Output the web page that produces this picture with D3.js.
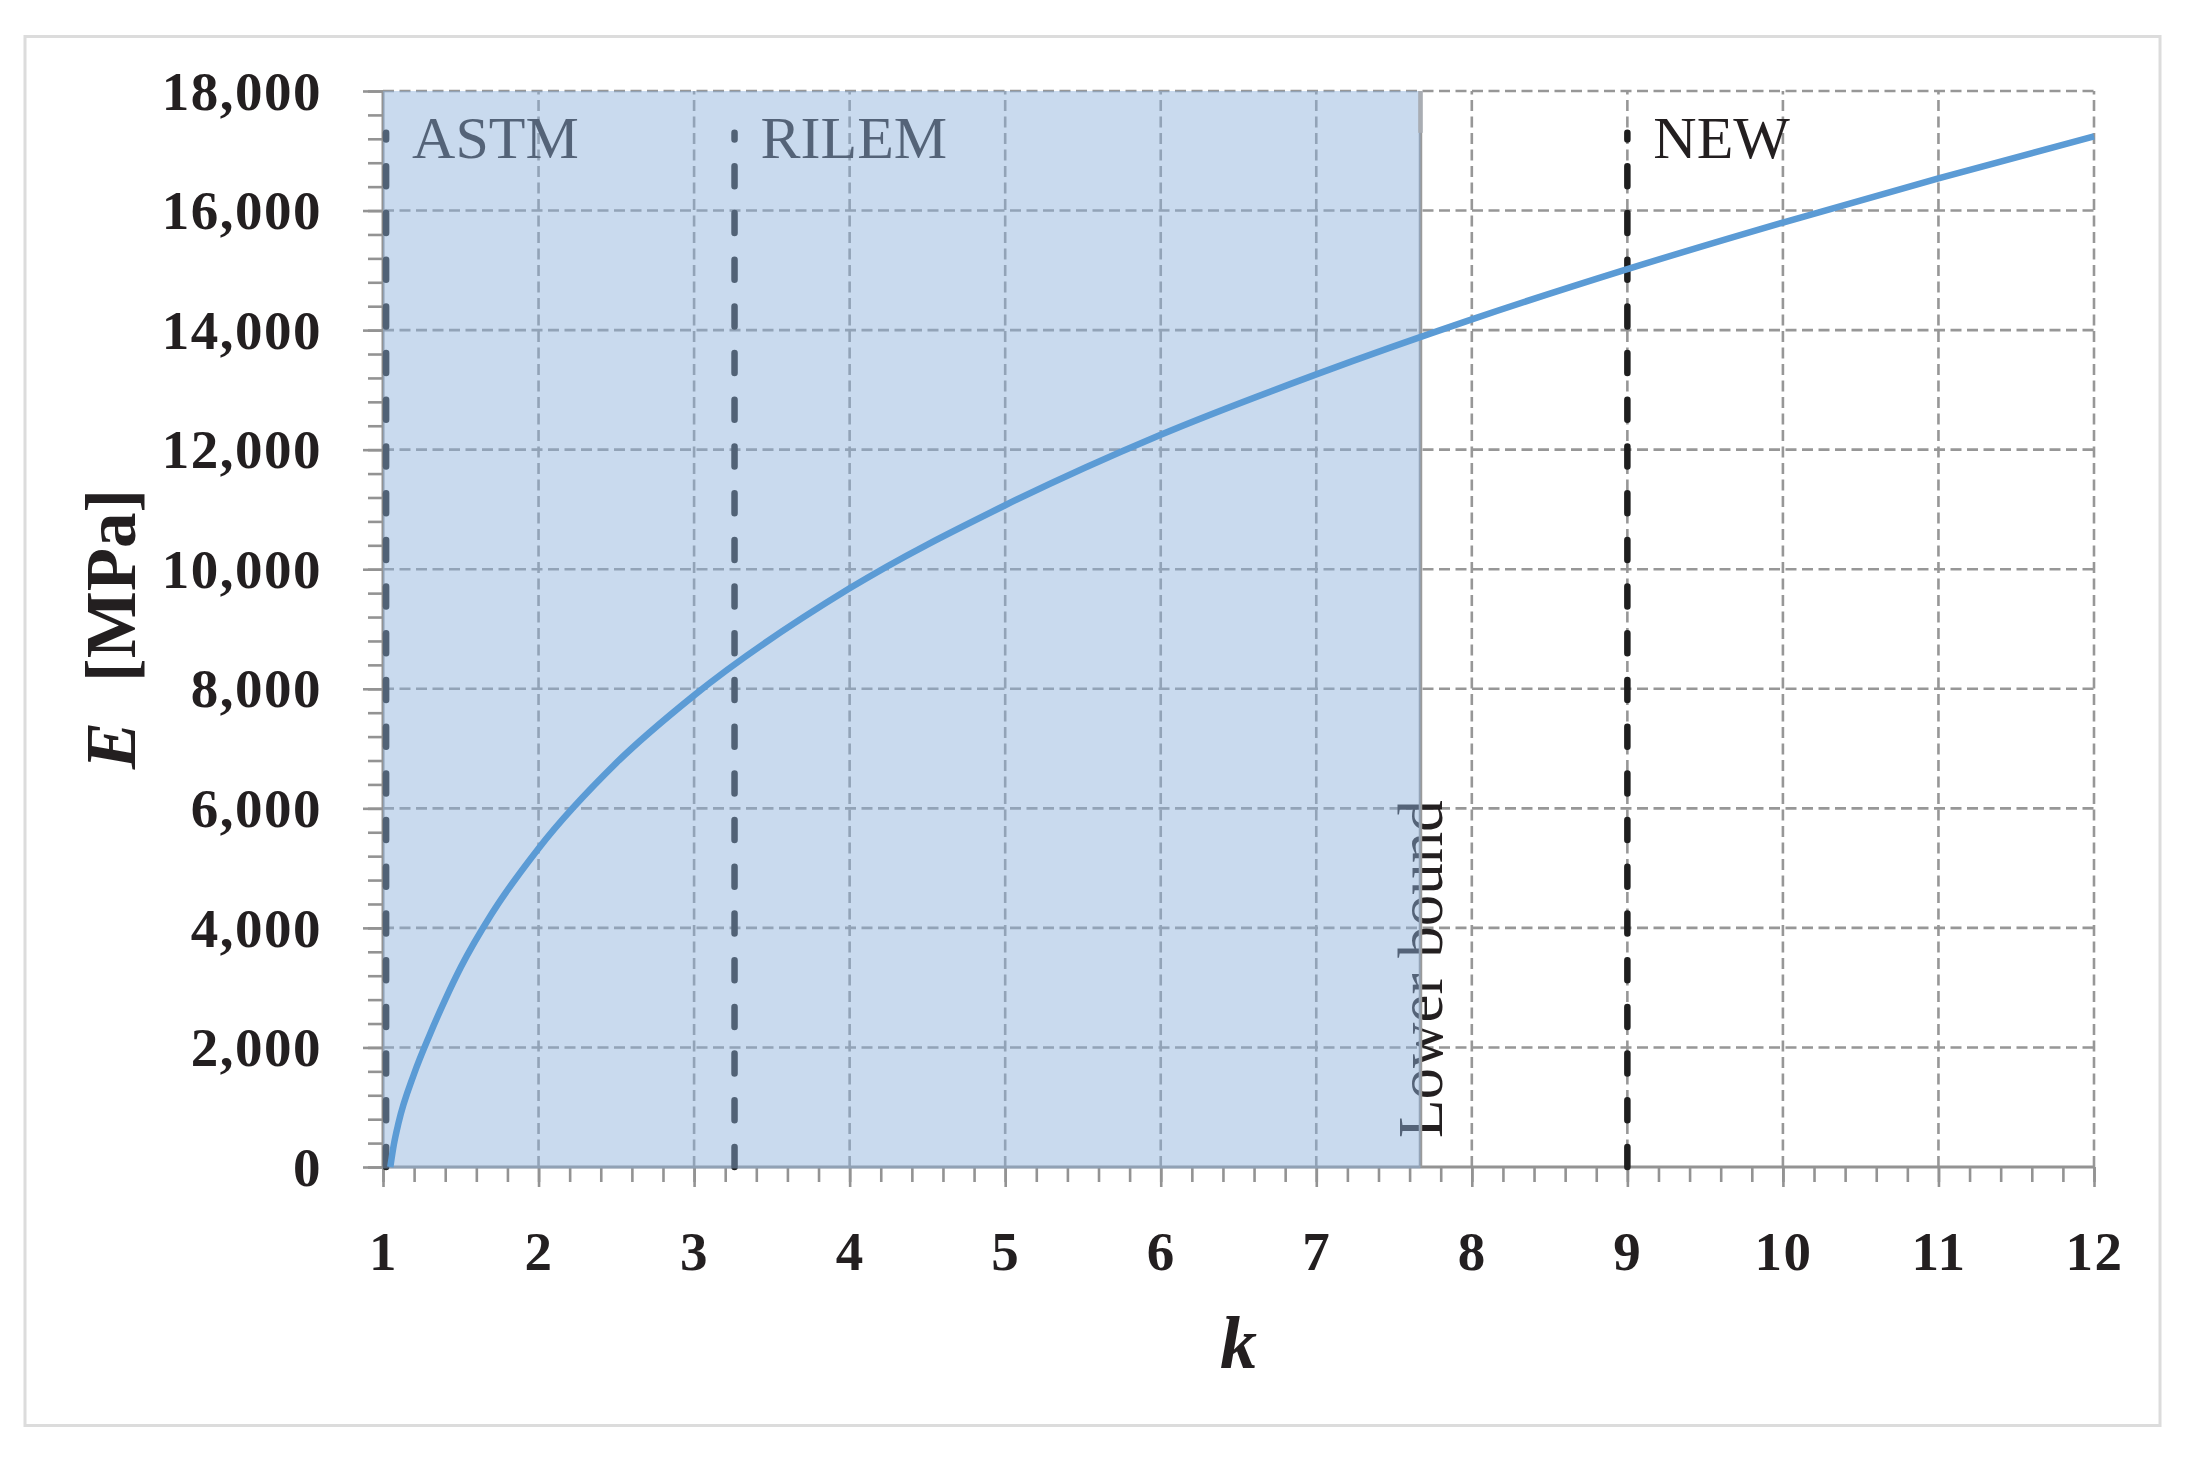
<!DOCTYPE html>
<html>
<head>
<meta charset="utf-8">
<script src="https://cdn.jsdelivr.net/npm/d3@7"></script>
<style>
  html, body { margin: 0; padding: 0; background: #ffffff; }
  svg { display: block; }
  text { font-family: "Liberation Serif", "DejaVu Serif", serif; }
</style>
</head>
<body>
<div id="chart"></div>
<script>
// ---------------- data ----------------
const kValues = [1.047, 1.07, 1.1, 1.2, 1.3, 1.4, 1.5, 1.7, 2, 2.5, 3, 4, 5, 6, 7, 8, 9, 10, 11, 12];
const eValues = [0, 380, 740, 1560, 2210, 2800, 3340, 4240, 5330, 6760, 7890, 9680, 11070, 12250, 13260, 14180, 15020, 15800, 16540, 17240];

const xTicks = [1, 2, 3, 4, 5, 6, 7, 8, 9, 10, 11, 12];
const yTicks = [0, 2000, 4000, 6000, 8000, 10000, 12000, 14000, 16000, 18000];

const markerNames = ["ASTM", "RILEM", "NEW"];
const markerK = [1.02, 3.26, 9];
const markerTop = 17300;          // E value where the marker lines end
const lowerBoundK = 7.67;
const lowerBoundLabel = "Lower bound";

const xTitle = "k";
const yTitleE = "E";
const yTitleUnit = "[MPa]";

// ---------------- layout ----------------
const W = 2188, H = 1460;
const svg = d3.select("#chart").append("svg").attr("width", W).attr("height", H);

const x = d3.scaleLinear().domain([1, 12]).range([383, 2094]);
const y = d3.scaleLinear().domain([0, 18000]).range([1167, 91]);

const gridColor = "#979797";
const axisColor = "#939393";
const textColor = "#231f20";

// outer frame
svg.append("rect")
  .attr("x", 25).attr("y", 36.5).attr("width", 2135).attr("height", 1389)
  .attr("fill", "#fff").attr("stroke", "#dcdcdc").attr("stroke-width", 3);

// ---------------- grid ----------------
const grid = svg.append("g");
grid.selectAll("line.h").data(yTicks.filter(d => d > 0)).join("line")
  .attr("x1", x(1)).attr("x2", x(12))
  .attr("y1", d => y(d)).attr("y2", d => y(d))
  .attr("stroke", gridColor).attr("stroke-width", 2.6).attr("stroke-dasharray", "11,5.5");
grid.selectAll("line.v").data(xTicks.filter(d => d > 1)).join("line")
  .attr("x1", d => x(d)).attr("x2", d => x(d))
  .attr("y1", y(0)).attr("y2", y(18000))
  .attr("stroke", gridColor).attr("stroke-width", 2.6).attr("stroke-dasharray", "11,5.5");

// ---------------- axes (ticks) ----------------
const xMinor = d3.range(1, 12.0001, 0.2).map(v => +v.toFixed(1));
const yMinor = d3.range(0, 18000.1, 400);

const xMinorAxis = svg.append("g").attr("transform", `translate(0,${y(0)})`)
  .call(d3.axisBottom(x).tickValues(xMinor).tickSize(15).tickFormat(""));
const xMajorAxis = svg.append("g").attr("transform", `translate(0,${y(0)})`)
  .call(d3.axisBottom(x).tickValues(xTicks).tickSize(20).tickPadding(44).tickFormat(d3.format("d")));
const yMinorAxis = svg.append("g").attr("transform", `translate(${x(1)},0)`)
  .call(d3.axisLeft(y).tickValues(yMinor).tickSize(15).tickFormat(""));
const yMajorAxis = svg.append("g").attr("transform", `translate(${x(1)},0)`)
  .call(d3.axisLeft(y).tickValues(yTicks).tickSize(20).tickPadding(41).tickFormat(d3.format(",")));

[xMinorAxis, xMajorAxis, yMinorAxis, yMajorAxis].forEach(g => {
  g.select(".domain").remove();
  g.selectAll(".tick line").attr("stroke", axisColor).attr("stroke-width", 2.6);
});
xMajorAxis.selectAll(".tick text")
  .attr("fill", textColor).attr("font-size", 55).attr("font-weight", "bold")
  .attr("letter-spacing", 1.5)
  .attr("y", 103).attr("dy", 0);
yMajorAxis.selectAll(".tick text")
  .attr("fill", textColor).attr("font-size", 55).attr("font-weight", "bold")
  .attr("letter-spacing", 1.5)
  .attr("dy", "0.33em");

// axis lines
svg.append("line").attr("x1", x(1)).attr("x2", x(12)).attr("y1", y(0)).attr("y2", y(0))
  .attr("stroke", axisColor).attr("stroke-width", 3);
svg.append("line").attr("x1", x(1)).attr("x2", x(1)).attr("y1", y(0)).attr("y2", y(18000))
  .attr("stroke", axisColor).attr("stroke-width", 3);

// ---------------- markers ----------------
const markers = markerNames.map((n, i) => ({ name: n, k: markerK[i] }));
const mg = svg.append("g");
mg.selectAll("line").data(markers).join("line")
  .attr("x1", d => x(d.k)).attr("x2", d => x(d.k))
  .attr("y1", y(0)).attr("y2", y(markerTop))
  .attr("stroke", "#1e1e1e").attr("stroke-width", 6.5)
  .attr("stroke-linecap", "round").attr("stroke-dasharray", "20,26.7");
mg.selectAll("text").data(markers).join("text")
  .attr("x", d => x(d.k) + 26).attr("y", 158)
  .attr("font-size", 60).attr("fill", textColor)
  .text(d => d.name);

// lower bound label
svg.append("text")
  .attr("transform", `translate(${x(lowerBoundK) + 22},1138) rotate(-90)`)
  .attr("font-size", 63).attr("fill", textColor)
  .text(lowerBoundLabel);

// lower bound solid line
svg.append("line")
  .attr("x1", x(lowerBoundK)).attr("x2", x(lowerBoundK))
  .attr("y1", y(0)).attr("y2", y(18000))
  .attr("stroke", "#9a9a9a").attr("stroke-width", 3.5);

// shaded range overlay
svg.append("rect")
  .attr("x", x(1)).attr("y", y(18000))
  .attr("width", x(lowerBoundK) - x(1)).attr("height", y(0) - y(18000) + 1.5)
  .attr("fill", "rgb(140,176,219)").attr("fill-opacity", 0.47);

// top part of the lower bound line above the overlay
svg.append("line")
  .attr("x1", x(lowerBoundK)).attr("x2", x(lowerBoundK))
  .attr("y1", y(markerTop)).attr("y2", y(18000))
  .attr("stroke", "#a9adb3").attr("stroke-width", 4.5);

// ---------------- curve ----------------
const pts = kValues.map((k, i) => [k, eValues[i]]);
svg.append("path")
  .datum(pts)
  .attr("fill", "none")
  .attr("stroke", "#5b9bd5")
  .attr("stroke-width", 6.5)
  .attr("stroke-linejoin", "round")
  .attr("d", d3.line().x(d => x(d[0])).y(d => y(d[1])).curve(d3.curveMonotoneX));

// ---------------- titles ----------------
svg.append("text")
  .attr("x", (x(1) + x(12)) / 2).attr("y", 1368)
  .attr("text-anchor", "middle")
  .attr("font-size", 74).attr("font-weight", "bold").attr("font-style", "italic")
  .attr("fill", textColor)
  .text(xTitle);

const yt = svg.append("text")
  .attr("transform", `translate(135,${(y(0) + y(18000)) / 2}) rotate(-90)`)
  .attr("text-anchor", "middle")
  .attr("font-size", 71).attr("font-weight", "bold")
  .attr("fill", textColor);
yt.append("tspan").attr("font-style", "italic").text(yTitleE);
yt.append("tspan").attr("dx", 40).text(yTitleUnit);
</script>
</body>
</html>
